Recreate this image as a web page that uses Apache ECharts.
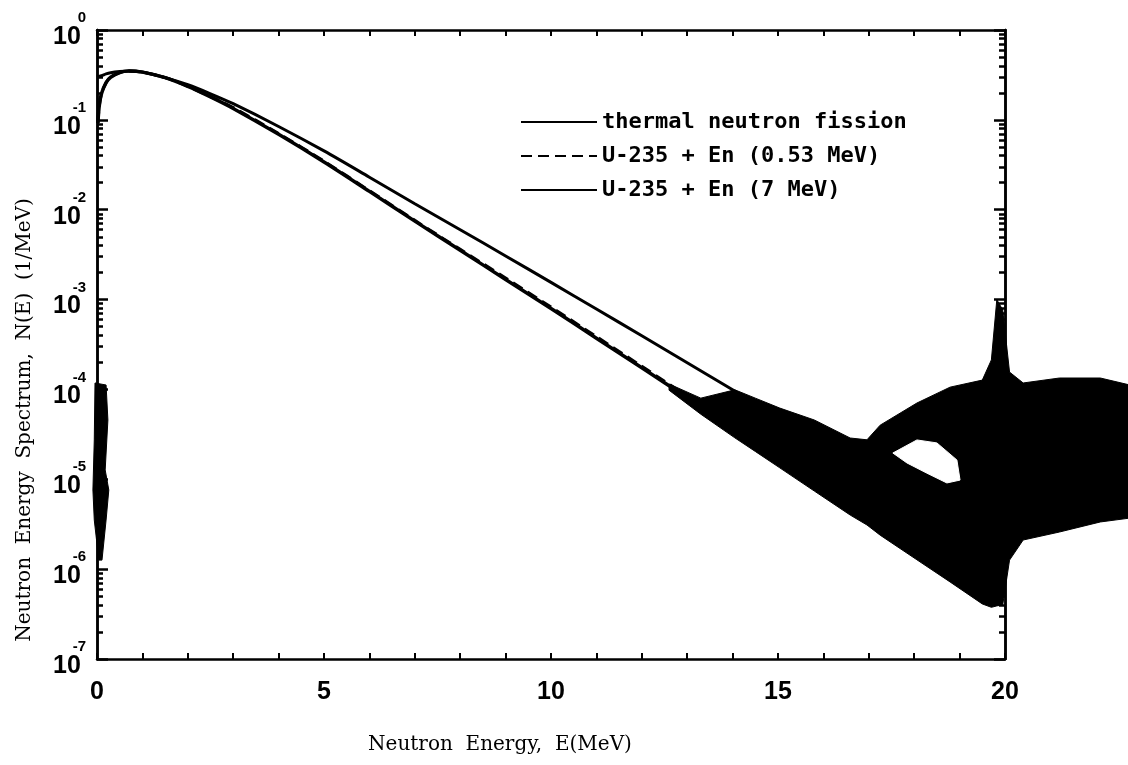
<!DOCTYPE html>
<html><head><meta charset="utf-8">
<script src="https://cdn.jsdelivr.net/npm/echarts@6/dist/echarts.min.js"></script>
<style>html,body{margin:0;padding:0;background:#fff}#c{width:1128px;height:765px}</style>
</head><body><div id="c"></div>
<script>
// ---- data ----
const energy  = [0.02,0.05,0.1,0.2,0.3,0.5,0.7,1,1.5,2,2.5,3,4,5,6,7,8,9,10,11,12,13,14,15,16,17,18,19,19.8];
const thermal = [0.092,0.143,0.196,0.259,0.298,0.336,0.349,0.340,0.295,0.236,0.180,0.134,0.069,0.034,0.0160,0.007465,0.003545,0.001672,7.95e-4,3.72e-4,1.74e-4,8.1e-5,3.75e-5,1.73e-5,7.9e-6,3.6e-6,1.64e-6,7.5e-7,4.0e-7];
const en053   = [0.092,0.143,0.196,0.259,0.298,0.336,0.349,0.340,0.295,0.236,0.181,0.137,0.0704,0.0347,0.0163,0.00761,0.00362,0.00174,8.26e-4,3.87e-4,1.81e-4,8.42e-5,3.9e-5,1.8e-5,8.3e-6,3.8e-6,1.72e-6,7.9e-7,4.2e-7];
const energy7 = [0,0.1,0.2,0.3,0.5,0.7,1,1.5,2,2.5,3,4,5,6,7,8,9,10,11,12,13,14,14.2];
const en7     = [0.30,0.31,0.325,0.335,0.345,0.35,0.34,0.295,0.2457,0.1951,0.1512,0.0844,0.0451,0.0230,0.01163,0.005987,0.00306,0.001553,7.85e-4,3.951e-4,1.981e-4,9.90e-5,8.61e-5];

// scatter (statistical noise) envelope at high energy
const noiseE  = [12.6,13.3,14.05,14.5,15.04,15.8,16.59,16.96,17.25,18.06,18.79,19.5,19.7,19.82,19.95,20.1,20.4,21.2,22.1,22.75];
const noiseHi = [1.15e-4,8.0e-5,9.9e-5,8.0e-5,6.2e-5,4.57e-5,2.88e-5,2.75e-5,4.0e-5,7.06e-5,1.06e-4,1.27e-4,2.13e-4,1.0e-3,7.66e-4,1.56e-4,1.18e-4,1.34e-4,1.34e-4,1.12e-4];
const noiseLo = [9.8e-5,5.3e-5,2.89e-5,2.04e-5,1.34e-5,7.4e-6,4.0e-6,3.1e-6,2.39e-6,1.27e-6,7.2e-7,4.1e-7,3.76e-7,3.9e-7,4.0e-7,1.26e-6,2.11e-6,2.59e-6,3.35e-6,3.7e-6];
// gap inside the scatter cloud
const holeE = [17.53,18.06,18.50,18.94,19.01,18.72,18.28,17.84];
const holeN = [1.96e-5,2.74e-5,2.54e-5,1.64e-5,9.8e-6,9.1e-6,1.17e-5,1.52e-5];
// scatter along E = 0
const edgeE = [-0.044,0.20,0.24,0.18,0.26,0.20,0.11,0.04,-0.06,-0.09,-0.06];
const edgeN = [1.18e-4,1.12e-4,4.57e-5,1.27e-5,7.6e-6,3.52e-6,1.26e-6,1.26e-6,3.52e-6,7.6e-6,2.74e-5];

const xLabels   = [0,5,10,15,20];
const yDecades  = [1e-7,1e-6,1e-5,1e-4,1e-3,1e-2,1e-1,1];
const yExponents= ['-7','-6','-5','-4','-3','-2','-1','0'];
const names = ['thermal neutron fission','U-235 + En (0.53 MeV)','U-235 + En (7 MeV)'];

const yMinor = [];
for (let i = 0; i < yDecades.length - 1; i++) for (let k = 2; k <= 9; k++) yMinor.push(k * yDecades[i]);

const tickFont = "'Liberation Sans','Arial',sans-serif";
const serif = "'DejaVu Serif','Liberation Serif',serif";
const axLine = {show:true, lineStyle:{color:'#000', width:2.5}};

function yAx(pos, vals, len, label) {
  return {
    type:'log', logBase:10, min:1e-7, max:1, position:pos,
    axisLine:axLine, splitLine:{show:false},
    axisTick:{show:true, inside:true, length:len, customValues:vals, lineStyle:{color:'#000', width:2.5}},
    axisLabel: label || {show:false}
  };
}
const baseLabel = {
  show:true, customValues:yDecades, margin:44, align:'left',
  formatter: () => '{b|10}',
  rich:{b:{fontFamily:tickFont, fontWeight:'bold', fontSize:25, color:'#000', lineHeight:26, padding:[14,0,0,0]}}
};
const expLabel = {
  show:true, customValues:yDecades, margin:11, align:'right',
  formatter: v => '{e|' + yExponents[Math.round(Math.log10(v)) + 7] + '}',
  rich:{e:{fontFamily:tickFont, fontWeight:'bold', fontSize:15, color:'#000', lineHeight:15, padding:[0,0,24,0]}}
};
function xAx(pos, labels) {
  return {
    type:'value', min:0, max:20, interval:1, position:pos,
    axisLine:axLine, splitLine:{show:false},
    axisTick:{show:true, inside:true, length:6, lineStyle:{color:'#000', width:2}},
    axisLabel: labels ? {show:true, customValues:xLabels, margin:21, fontFamily:tickFont, fontWeight:'bold', fontSize:25, color:'#000'} : {show:false}
  };
}
function poly(points, fill, z) {
  return {
    type:'custom', silent:true, clip:false, z:z, xAxisIndex:0, yAxisIndex:0,
    data:[points[0]],
    renderItem:(params, api) => ({
      type:'polygon',
      shape:{points: points.map(p => api.coord(p))},
      style:{fill:fill, stroke:fill, lineWidth:1}
    })
  };
}
const noisePts = noiseE.map((e,i)=>[e, noiseHi[i]]).concat(noiseE.map((e,i)=>[e, noiseLo[i]]).reverse());
const holePts = holeE.map((e,i)=>[e, holeN[i]]);
const edgePts = edgeE.map((e,i)=>[e, edgeN[i]]);

const chart = echarts.init(document.getElementById('c'), null, {renderer:'canvas'});
chart.setOption({
  backgroundColor:'#fff',
  animation:false,
  grid:{left:97, right:123, top:30, bottom:106, containLabel:false},
  xAxis:[xAx('bottom', true), xAx('top', false)],
  yAxis:[yAx('left', yDecades, 11, baseLabel), yAx('left', yMinor, 6, expLabel), yAx('right', yDecades, 11, null), yAx('right', yMinor, 6, null)],
  legend:{
    data:names, orient:'vertical', left:515, top:106, itemWidth:76, itemHeight:14, itemGap:12,
    itemStyle:{opacity:0, borderWidth:0},
    textStyle:{fontFamily:"'DejaVu Sans Mono',monospace", fontWeight:'bold', fontSize:22, color:'#000', lineHeight:22}
  },
  graphic:[
    {type:'text', x:500, y:745, style:{text:'Neutron  Energy,  E(MeV)', fontFamily:serif, fontSize:20, fill:'#000', align:'center', verticalAlign:'middle'}},
    {type:'text', x:25, y:420, rotation:Math.PI/2, style:{text:'Neutron  Energy  Spectrum,  N(E)  (1/MeV)', fontFamily:serif, fontSize:20, fill:'#000', align:'center', verticalAlign:'middle'}}
  ],
  series:[
    {name:names[0], type:'line', symbol:'none', smooth:0.3, z:2, data:energy.map((e,i)=>[e, thermal[i]]), lineStyle:{color:'#000', width:3.5}, itemStyle:{color:'#000'}},
    {name:names[1], type:'line', symbol:'none', smooth:0.3, z:2, data:energy.map((e,i)=>[e, en053[i]]), lineStyle:{color:'#000', width:3, type:[11,6]}, itemStyle:{color:'#000'}},
    {name:names[2], type:'line', symbol:'none', smooth:0.3, z:2, data:energy7.map((e,i)=>[e, en7[i]]), lineStyle:{color:'#000', width:3}, itemStyle:{color:'#000'}},
    poly(noisePts, '#000', 3),
    poly(holePts, '#fff', 4),
    poly(edgePts, '#000', 3)
  ]
});
</script></body></html>
